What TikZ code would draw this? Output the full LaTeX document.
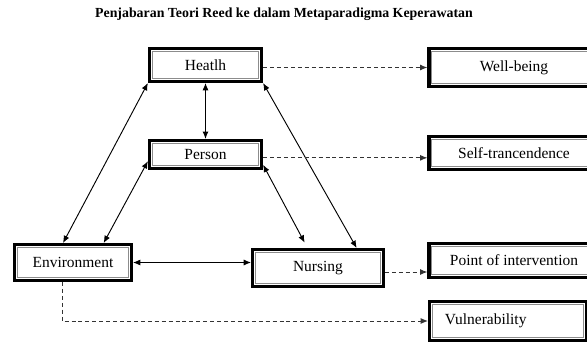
\documentclass[tikz,border=0pt]{standalone}
\usepackage{fontspec}
\setmainfont{Liberation Serif}
\usetikzlibrary{arrows.meta}
\definecolor{framegray}{HTML}{8C8C8C}
\tikzset{
 conceptbox/.style={draw=black, line width=2.4pt, fill=white, inner sep=0pt,
  font=\fontsize{11.6}{13}\selectfont,
  path picture={\draw [framegray, line width=0.8pt]
   ([shift={(2.1pt,2.1pt)}]path picture bounding box.south west) rectangle
   ([shift={(-2.1pt,-2.1pt)}]path picture bounding box.north east);}},
 link/.style={line width=0.7pt, {Latex[length=5.5pt,width=4.5pt]}-{Latex[length=5.5pt,width=4.5pt]}},
 outlink/.style={dash pattern=on 3pt off 2.2pt, line width=0.75pt, black!80,
  -{Latex[length=5.5pt,width=4.5pt]}}
}
\begin{document}
\begin{tikzpicture}[x=0.75pt,y=-0.75pt]
 \useasboundingbox (0,0) rectangle (587,343);
 \node [font=\bfseries\fontsize{10.4}{12}\selectfont] (title) at (284,14)
  {Penjabaran Teori Reed ke dalam Metaparadigma Keperawatan};
 % inner triangle
 \node [conceptbox, minimum width=84pt, minimum height=24.6pt] (heatlh) at (205.5,65) {Heatlh};
 \node [conceptbox, minimum width=84pt, minimum height=21pt] (person) at (205.5,154.5) {Person};
 \node [conceptbox, minimum width=87.6pt, minimum height=26.8pt] (environment) at (73,262.5) {Environment};
 \node [conceptbox, minimum width=98pt, minimum height=27.6pt] (nursing) at (318,268) {Nursing};
 % outcome boxes
 \node [conceptbox, minimum width=127.5pt, minimum height=28.4pt] (wellbeing) at (514,67.5) {Well-being};
 \node [conceptbox, minimum width=127.5pt, minimum height=24.6pt] (selftrans) at (514,153) {Self-trancendence};
 \node [conceptbox, minimum width=127.5pt, minimum height=25.4pt] (intervention) at (514,260.5) {Point of intervention};
 \node [conceptbox, minimum height=29.1pt, inner xsep=11.5pt, text width=94.6pt, align=left] (vulner) at (508,321) {Vulnerability};
 % relations
 \draw [link] (heatlh.south) -- (person.north);
 \draw [link] (heatlh.south west) -- ([xshift=-7.5pt]environment.north);
 \draw [link] ([yshift=-5pt]person.west) -- ([xshift=23pt]environment.north);
 \draw [link] (heatlh.south east) -- ([xshift=29pt]nursing.north);
 \draw [link] ([yshift=4pt]person.south east) -- ([xshift=-10pt,yshift=4pt]nursing.north);
 \draw [link] (environment.east) -- (environment.east -| nursing.west);
 \draw [outlink] (heatlh.east |- wellbeing.west) -- (wellbeing.west);
 \draw [outlink] ([yshift=-2.5pt]person.east) -- ([yshift=-2.5pt]person.east -| selftrans.west);
 \draw [outlink] ([yshift=-3pt]nursing.east) -- ([yshift=-3pt]nursing.east -| intervention.west);
 \draw [outlink] ([xshift=-8.25pt]environment.south) |- (vulner.west);
\end{tikzpicture}
\end{document}
